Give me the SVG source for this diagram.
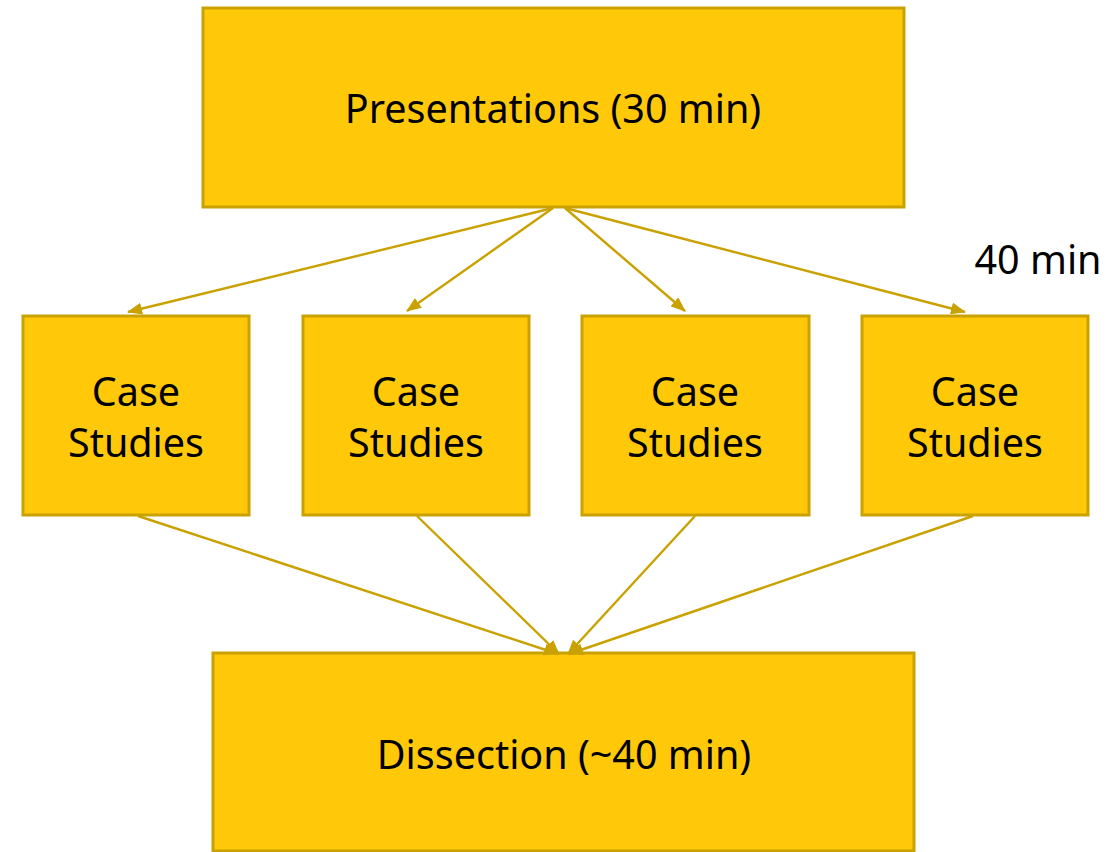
<svg xmlns="http://www.w3.org/2000/svg" width="1120" height="852" viewBox="0 0 1120 852">
<defs>
<style>
.box{fill:#FFC90A;stroke:#C9A100;stroke-width:3}
.lbl{font-family:"Noto Sans","Open Sans",sans-serif;font-size:39.5px;fill:#000;text-anchor:middle}
.conn line{stroke:#C9A100;stroke-width:2.4;marker-end:url(#ah)}
</style>
<marker id="ah" viewBox="0 0 15 12" refX="14" refY="6" markerWidth="15" markerHeight="12" markerUnits="userSpaceOnUse" orient="auto">
<path d="M0,0 L15,6 L0,12 z" fill="#C9A100"/>
</marker>
</defs>
<g id="presentations"><rect class="box" x="203" y="8" width="701" height="199"/><text class="lbl" x="553" y="123">Presentations (30 min)</text></g>
<g id="case1"><rect class="box" x="23" y="316" width="226" height="199"/><text class="lbl" x="136" y="406">Case</text><text class="lbl" x="136" y="457">Studies</text></g>
<g id="case2"><rect class="box" x="303" y="316" width="226" height="199"/><text class="lbl" x="416" y="406">Case</text><text class="lbl" x="416" y="457">Studies</text></g>
<g id="case3"><rect class="box" x="582" y="316" width="227" height="199"/><text class="lbl" x="695" y="406">Case</text><text class="lbl" x="695" y="457">Studies</text></g>
<g id="case4"><rect class="box" x="862" y="316" width="226" height="199"/><text class="lbl" x="975" y="406">Case</text><text class="lbl" x="975" y="457">Studies</text></g>
<g id="dissection"><rect class="box" x="213" y="653" width="701" height="198"/><text class="lbl" x="564" y="769">Dissection (~40 min)</text></g>
<g id="note"><text class="lbl" x="1038" y="274">40 min</text></g>
<g class="conn" id="connectors">
<line x1="553" y1="208" x2="128" y2="312"/>
<line x1="553" y1="208" x2="407" y2="311"/>
<line x1="565" y1="208" x2="685" y2="311"/>
<line x1="565" y1="208" x2="965" y2="312"/>
<line x1="138" y1="516" x2="558" y2="654"/>
<line x1="417" y1="516" x2="559" y2="654"/>
<line x1="695" y1="516" x2="568" y2="654"/>
<line x1="973" y1="516" x2="569" y2="654"/>
</g>
</svg>
